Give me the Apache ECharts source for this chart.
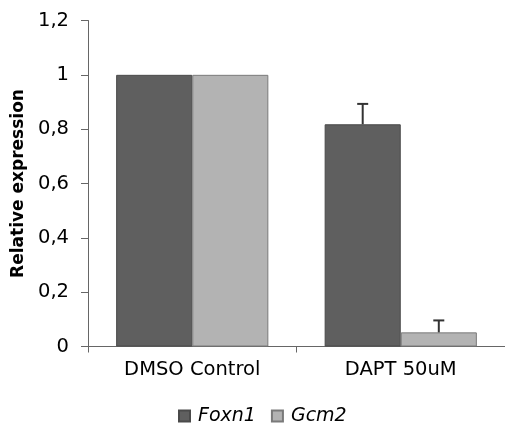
<!DOCTYPE html>
<html><head><meta charset="utf-8">
<script src="https://cdn.jsdelivr.net/npm/echarts@6/dist/echarts.min.js"></script>
<style>html,body{margin:0;padding:0;background:#fff}#c{width:505px;height:426px}</style>
</head><body><div id="c"></div>
<script>
const categories = ['DMSO Control', 'DAPT 50uM'];
const seriesNames = ['Foxn1', 'Gcm2'];
const foxn1 = [1.0, 0.818];
const gcm2 = [1.0, 0.052];
const foxn1Err = [0, 0.075];
const gcm2Err = [0, 0.044];
const yTicks = [0, 0.2, 0.4, 0.6, 0.8, 1.0, 1.2];

const GAP = 0.27;
function errSeries(vals, errs, idx) {
  return {
    type: 'custom',
    silent: true,
    z: 5,
    data: vals.map((v, i) => [i, v, errs[i]]),
    renderItem: function (params, api) {
      const err = api.value(2);
      if (!err) return null;
      const i = api.value(0), v = api.value(1);
      const band = api.size([1, 0])[0];
      const bw = band * (1 - GAP) / 2;
      const off = (idx === 0 ? -bw / 2 : bw / 2);
      const p0 = api.coord([i, v]);
      const p1 = api.coord([i, v + err]);
      const x = p0[0] + off;
      return {
        type: 'group',
        children: [
          { type: 'line', shape: { x1: x, y1: p0[1], x2: x, y2: p1[1] }, style: { stroke: '#333', lineWidth: 2 } },
          { type: 'line', shape: { x1: x - 5.5, y1: p1[1], x2: x + 5.5, y2: p1[1] }, style: { stroke: '#333', lineWidth: 2 } }
        ]
      };
    }
  };
}

const FONT = 'DejaVu Sans, Verdana, sans-serif';
const chart = echarts.init(document.getElementById('c'));
chart.setOption({
  animation: false,
  textStyle: { fontFamily: FONT },
  grid: { left: 88, right: -4, top: 20.5, bottom: 79.5, containLabel: false },
  legend: {
    top: 406.5, left: 178, padding: 0,
    icon: 'rect', itemWidth: 11, itemHeight: 11, itemGap: 15,
    data: seriesNames,
    textStyle: { fontSize: 19, fontStyle: 'italic', color: '#000', fontFamily: FONT, padding: [0, 0, 0, 3] }
  },
  xAxis: {
    type: 'category', data: categories,
    axisLine: { lineStyle: { color: '#666', width: 1 } },
    axisTick: { show: true, length: 6, lineStyle: { color: '#666' } },
    axisLabel: { fontSize: 19.5, color: '#000', margin: 13, fontFamily: FONT }
  },
  yAxis: {
    type: 'value', min: 0, max: 1.2, interval: 0.2,
    name: 'Relative expression', nameLocation: 'middle', nameGap: 57,
    nameTextStyle: { fontSize: 17, fontWeight: 'bold', color: '#000', fontFamily: FONT },
    axisLine: { show: true, lineStyle: { color: '#666', width: 1 } },
    axisTick: { show: true, length: 7, lineStyle: { color: '#666' } },
    splitLine: { show: false },
    axisLabel: {
      fontSize: 19.5, color: '#000', margin: 19, fontFamily: FONT,
      formatter: v => { const t = yTicks.find(x => Math.abs(x - v) < 1e-6); return String(Math.round((t ?? v) * 10) / 10).replace('.', ','); }
    }
  },
  series: [
    { name: 'Foxn1', type: 'bar', data: foxn1, barGap: '0%', barCategoryGap: (GAP * 100) + '%',
      itemStyle: { color: '#5f5f5f', borderColor: '#4a4a4a', borderWidth: 1 } },
    { name: 'Gcm2', type: 'bar', data: gcm2, barGap: '0%', barCategoryGap: (GAP * 100) + '%',
      itemStyle: { color: '#b3b3b3', borderColor: '#7a7a7a', borderWidth: 1 } },
    errSeries(foxn1, foxn1Err, 0),
    errSeries(gcm2, gcm2Err, 1)
  ]
});
</script></body></html>
